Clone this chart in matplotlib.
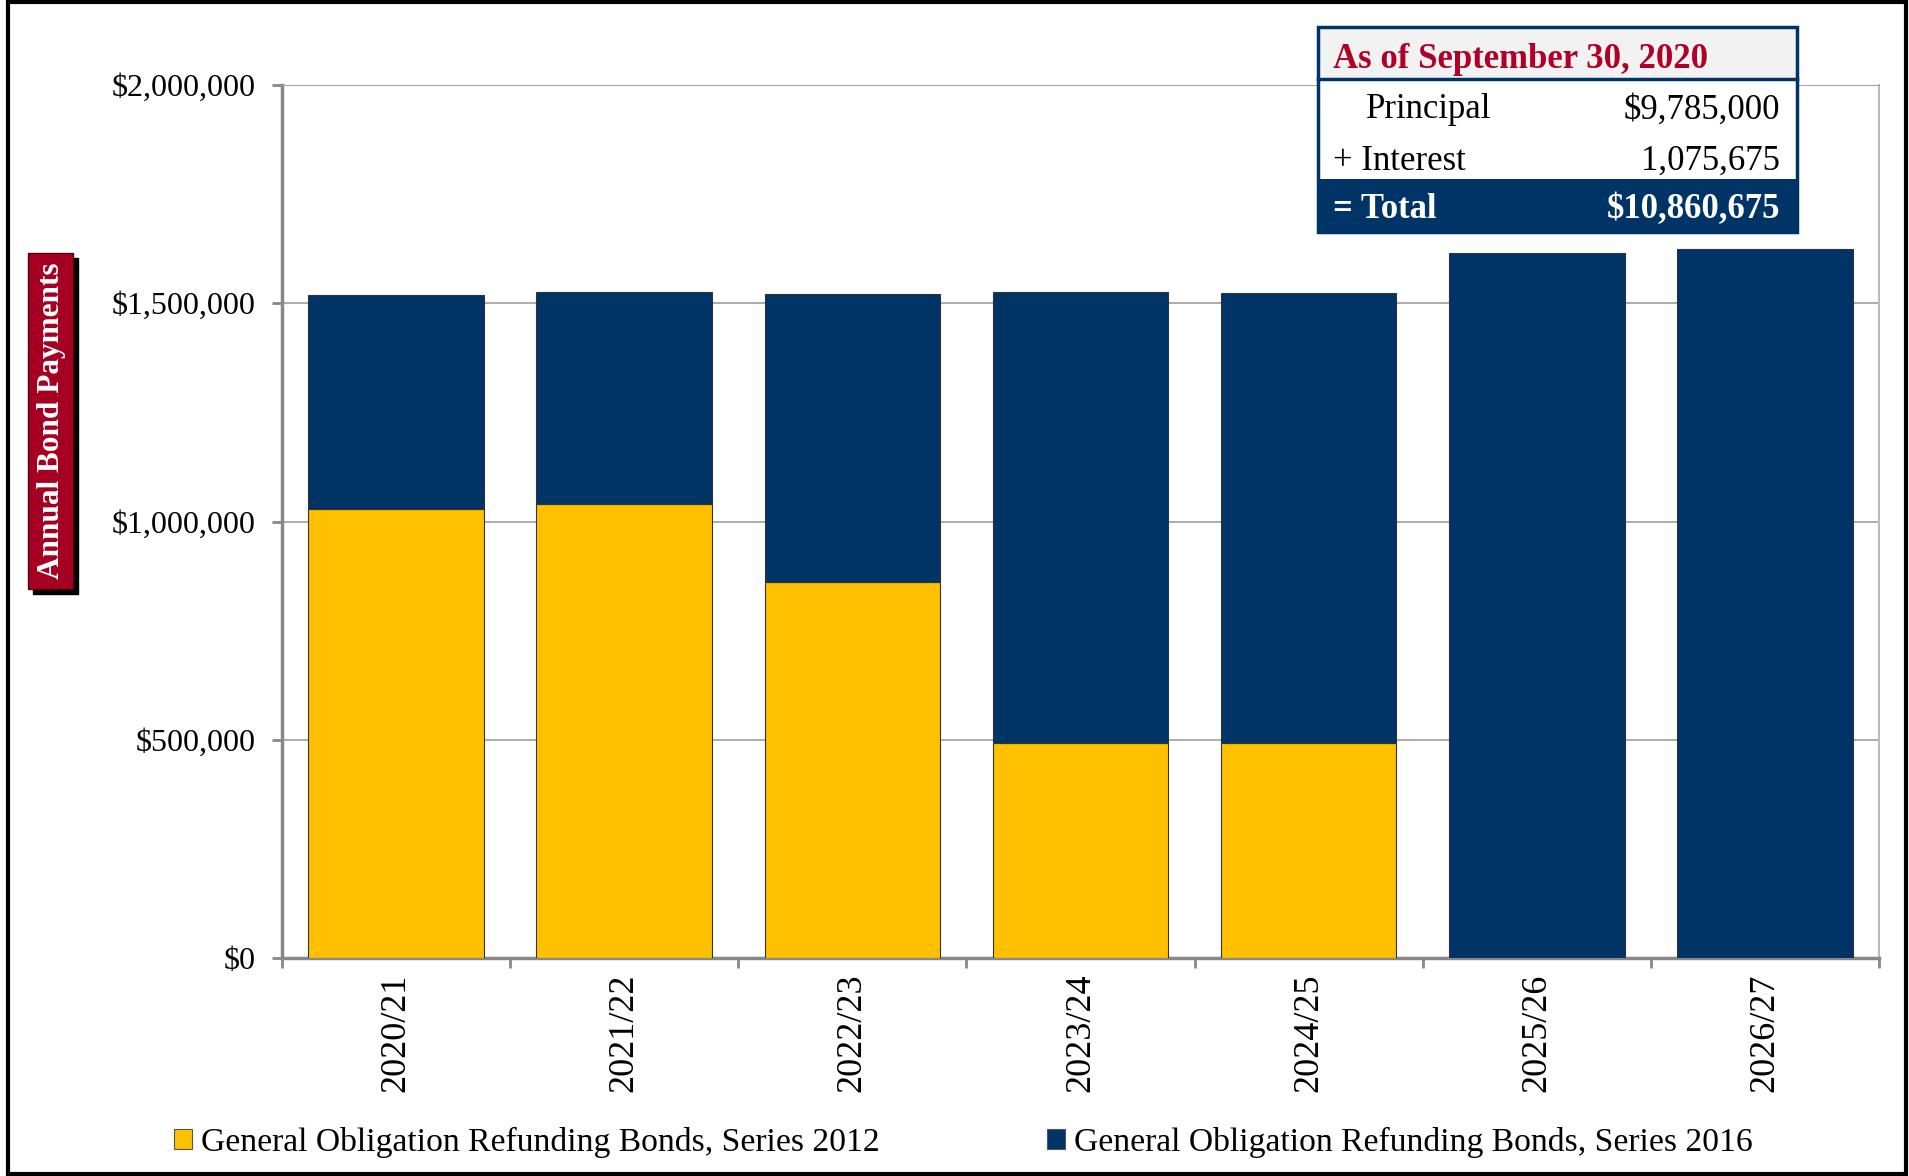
import matplotlib
matplotlib.use("Agg")
import matplotlib.pyplot as plt
from matplotlib.patches import Rectangle, Patch
from matplotlib.ticker import FuncFormatter

# data
YEARS = ["2020/21", "2021/22", "2022/23", "2023/24", "2024/25", "2025/26", "2026/27"]
SERIES_2012 = [1029000, 1041000, 861000, 493000, 493000, 0, 0]
SERIES_2016 = [489000, 484000, 660000, 1033000, 1030000, 1616000, 1624000]
LABEL_2012 = "General Obligation Refunding Bonds, Series 2012"
LABEL_2016 = "General Obligation Refunding Bonds, Series 2016"

TABLE_TITLE = "As of September 30, 2020"
TABLE_ROWS = [("Principal", "$9,785,000"), ("+ Interest", "1,075,675")]
TABLE_TOTAL = ("= Total", "$10,860,675")

YELLOW, NAVY, RED = "#ffc000", "#003366", "#a50021"
GRID, SPINE = "#a6a6a6", "#888888"
SERIF = "Liberation Serif"

W, H = 1909, 1176
plt.rcParams["font.family"] = SERIF


def fx(x):
    return x / W


def fy(y):
    return 1 - y / H


fig = plt.figure(figsize=(W / 100, H / 100), dpi=100, facecolor="white")
ax = fig.add_axes([fx(282), fy(958), fx(1879) - fx(282), fy(85) - fy(958)])

xs = range(len(YEARS))
ax.bar(xs, SERIES_2012, width=0.77, color=YELLOW, edgecolor="#333333", linewidth=0.8, zorder=3)
ax.bar(xs, SERIES_2016, width=0.77, bottom=SERIES_2012, color=NAVY, edgecolor="#333333",
       linewidth=0.8, zorder=3)

ax.set_xlim(-0.5, len(YEARS) - 0.5)
ax.set_ylim(0, 2000000)
ax.set_yticks([0, 500000, 1000000, 1500000, 2000000])
ax.yaxis.set_major_formatter(FuncFormatter(lambda v, _: f"${v:,.0f}"))
ax.set_xticks(list(xs))
ax.set_xticklabels(YEARS, rotation=90, fontsize=26)
ax.set_xticks([i - 0.5 for i in range(len(YEARS) + 1)], minor=True)
ax.tick_params(axis="x", which="major", length=0, pad=11)
ax.tick_params(axis="x", which="minor", length=7, width=2, color=SPINE)
ax.tick_params(axis="y", length=7, width=2, color=SPINE, labelsize=23, pad=12)
ax.grid(axis="y", color=GRID, linewidth=1.3, zorder=0)
for side in ("left", "bottom"):
    ax.spines[side].set_color(SPINE)
    ax.spines[side].set_linewidth(2.5)
ax.spines["top"].set_color(GRID)
ax.spines["right"].set_color("#bbbbbb")
ax.spines["right"].set_linewidth(1.5)

# red y-axis label box with shadow
fig.patches.append(Rectangle((fx(33), fy(594)), fx(45) - fx(0), fy(253) - fy(589),
                             transform=fig.transFigure, color="black", zorder=1))
fig.patches.append(Rectangle((fx(28), fy(589)), fx(45) - fx(0), fy(253) - fy(589),
                             transform=fig.transFigure, facecolor=RED, edgecolor="#550010",
                             linewidth=1, zorder=2))
fig.text(fx(51), fy(421), "Annual Bond Payments", rotation=90, ha="center", va="center",
         color="white", fontsize=22.5, fontweight="bold", zorder=3)

# summary table, top right
tl, tr = 1318, 1797
fig.patches.append(Rectangle((fx(tl), fy(79)), fx(tr - tl), fy(27) - fy(79),
                             transform=fig.transFigure, facecolor="#f2f2f2", edgecolor="none", zorder=5))
fig.patches.append(Rectangle((fx(tl), fy(179)), fx(tr - tl), fy(79) - fy(179),
                             transform=fig.transFigure, facecolor="white", edgecolor="none", zorder=5))
fig.patches.append(Rectangle((fx(tl), fy(232)), fx(tr - tl), fy(179) - fy(232),
                             transform=fig.transFigure, facecolor=NAVY, edgecolor="none", zorder=5))
fig.patches.append(Rectangle((fx(tl), fy(232)), fx(tr - tl), fy(27) - fy(232),
                             transform=fig.transFigure, facecolor="none", edgecolor=NAVY,
                             linewidth=2.5, zorder=6))
fig.lines.append(plt.Line2D([fx(tl), fx(tr)], [fy(79), fy(79)], transform=fig.transFigure,
                            color=NAVY, linewidth=2.5, zorder=6))
fig.text(fx(1333), fy(59), TABLE_TITLE, ha="left", va="center", color="#b00028",
         fontsize=25, fontweight="bold", zorder=7)
row_y = [110, 161]
for (lab, val), y in zip(TABLE_ROWS, row_y):
    x0 = 1366 if not lab.startswith("+") else 1333
    fig.text(fx(x0), fy(y), lab, ha="left", va="center", fontsize=25, color="black", zorder=7)
    fig.text(fx(1780), fy(y), val, ha="right", va="center", fontsize=25, color="black", zorder=7)
fig.text(fx(1333), fy(210), TABLE_TOTAL[0], ha="left", va="center", fontsize=25,
         fontweight="bold", color="white", zorder=7)
fig.text(fx(1780), fy(210), TABLE_TOTAL[1], ha="right", va="center", fontsize=25,
         fontweight="bold", color="white", zorder=7)

# legend
handles = [Patch(facecolor=YELLOW, edgecolor="#555555", linewidth=0.8),
           Patch(facecolor=NAVY, edgecolor="#555555", linewidth=0.8)]
fig.legend(handles, [LABEL_2012, LABEL_2016], loc="center left",
           bbox_to_anchor=(fx(174), fy(1142)), ncol=2, frameon=False, fontsize=24.2,
           handlelength=0.55, handleheight=0.55, handletextpad=0.25, columnspacing=4.97,
           borderaxespad=0, borderpad=0)

# outer frame
fig.patches.append(Rectangle((fx(8), fy(1174)), fx(1906 - 8), fy(2) - fy(1174),
                             transform=fig.transFigure, facecolor="none", edgecolor="black",
                             linewidth=3, zorder=10))

fig.savefig("out.png", dpi=100, facecolor="white")
